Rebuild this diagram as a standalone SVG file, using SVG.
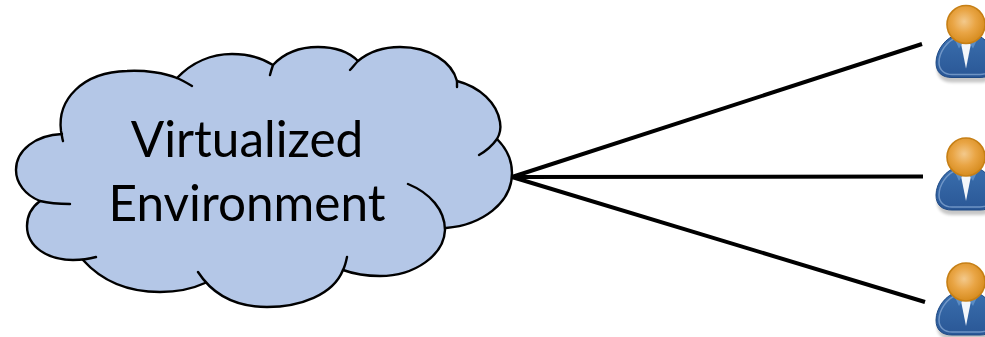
<svg xmlns="http://www.w3.org/2000/svg" width="985" height="337" viewBox="0 0 985 337">
<style>
.wire{fill:none;stroke:#000;stroke-width:4;stroke-linecap:butt}
.cloud{fill:#b4c7e7;stroke:none}
.edge{fill:none;stroke:#000;stroke-width:2.4;stroke-linecap:round}
.label{font-family:Lato,"Noto Sans",sans-serif;font-size:49.500px;fill:#000;text-anchor:middle}
</style>
<defs>
<radialGradient id="headFill" cx="0.45" cy="0.42" r="0.6">
<stop offset="0" stop-color="#f3c98c"/><stop offset="0.5" stop-color="#e9a545"/><stop offset="1" stop-color="#d58a1c"/>
</radialGradient>
<linearGradient id="bodyFill" x1="0" y1="0" x2="0" y2="1">
<stop offset="0" stop-color="#3a6fae"/><stop offset="1" stop-color="#2a5796"/>
</linearGradient>
<filter id="soft" x="-20%" y="-20%" width="140%" height="140%"><feGaussianBlur stdDeviation="1.5"/></filter>
<g id="person">
<path d="M-29 42C-29 52-22 56-14 56H14C22 56 29 52 29 42C29 28 18 17 0 17C-18 17-29 28-29 42Z" fill="#000" opacity="0.22" filter="url(#soft)" transform="translate(0 2)"/>
<path d="M-30 38C-30 26-20 12-8 10H8C20 12 30 26 30 38C30 48 24 53 14 53H-14C-24 53-30 48-30 38Z" fill="url(#bodyFill)" stroke="#1f4a85" stroke-width="1"/>
<path d="M-27 38C-27 28-19 16-9 13M-27 38C-27 46-21 50-14 50H14C21 50 27 46 27 38" fill="none" stroke="#7fa3cf" stroke-width="1.5" opacity="0.8"/>
<path d="M-6 14L0 44L6 14Z" fill="#f3f6fa"/>
<path d="M-13 11L-7 24L-2 16ZM13 11L7 24L2 16Z" fill="#5b8cc4"/>
<circle cx="0" cy="0" r="19" fill="url(#headFill)" stroke="#c67f15" stroke-width="1.6"/>
</g>
</defs>
<g id="connectors">
<line class="wire" x1="512" y1="177" x2="922" y2="44"/>
<line class="wire" x1="512" y1="177" x2="923" y2="176.500"/>
<line class="wire" x1="512" y1="177" x2="925" y2="302"/>
</g>
<g id="cloud">
<path class="cloud" d="M62 134C56 100 82 72 127 71C145 70 165 73 177 78C192 62 212 54 232 54C248 54 262 58 273 65C285 52 302 47 318 47C335 47 349 52 358 61C370 51 385 47 400 47C430 47 452 62 457 81C480 87 497 103 500 122C501 128 500 134 497 139C507 149 512 160 512 173C512 203 482 225 446 228C444 255 415 276 380 276C367 276 354 274 343 270C333 295 300 307 267 307C237 307 216 297 205 283C192 289 176 292 160 292C125 292 100 279 83 260C52 262 27 247 27 226C27 216 32 207 40 201C25 195 16 183 16 170C16 150 36 135 62 134Z"/>
<path class="edge" d="M63 141C62 138 62 135 61 131C57 100 82 72 127 71C145 70 165 73 177 78C182 80 187 83 192 86"/>
<path class="edge" d="M177 78C192 62 212 54 232 54C248 54 262 58 273 65M273 65C272 68 271 71 270 75"/>
<path class="edge" d="M273 65C285 52 302 47 318 47C335 47 349 52 358 61"/>
<path class="edge" d="M350 70C353 67 355 64 358 61C370 51 385 47 400 47C430 47 452 62 457 81C457 83 457 85 457 87"/>
<path class="edge" d="M457 81C480 87 497 103 500 122C501 128 500 134 497 139C492 146 486 151 479 155"/>
<path class="edge" d="M497 139C507 149 512 160 512 173C512 203 482 225 446 228"/>
<path class="edge" d="M408 184C430 193 445 210 445 230C444 255 415 276 380 276C367 276 354 274 343 270"/>
<path class="edge" d="M347 257C346 262 345 266 343 270C333 295 300 307 267 307C237 307 213 295 198 272"/>
<path class="edge" d="M205 283C192 289 176 292 160 292C125 292 100 279 83 260"/>
<path class="edge" d="M96 257C89 259 81 260 73 260C48 260 27 247 27 226C27 216 32 207 40 201"/>
<path class="edge" d="M70 204C58 204 48 203 40 201C25 195 16 183 16 170C16 150 36 135 62 134"/>
<text class="label" x="247" y="157">Virtualized</text>
<text class="label" x="247" y="221">Environment</text>
</g>
<g id="user-1"><use href="#person" x="966" y="24.500"/></g>
<g id="user-2"><use href="#person" x="966" y="157"/></g>
<g id="user-3"><use href="#person" x="966" y="282"/></g>
</svg>
